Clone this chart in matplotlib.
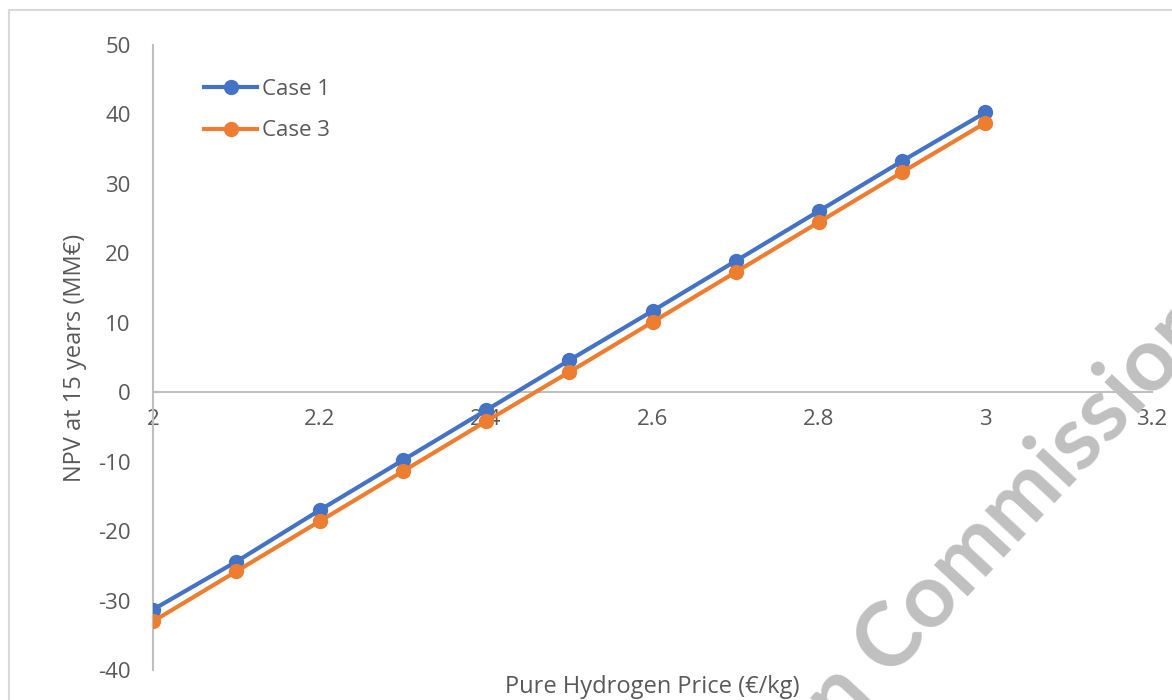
import matplotlib
matplotlib.use('Agg')
from matplotlib import pyplot as plt
from matplotlib.patches import Rectangle

# hydrogen price (EUR/kg) and NPV after 15 years (MM EUR)
prices = [2.0, 2.1, 2.2, 2.3, 2.4, 2.5, 2.6, 2.7, 2.8, 2.9, 3.0]
npv_case1 = [-31.3, -24.4, -17.0, -9.8, -2.6, 4.6, 11.7, 18.9, 26.1, 33.3, 40.3]
npv_case3 = [-33.0, -25.8, -18.6, -11.4, -4.2, 2.9, 10.1, 17.3, 24.5, 31.7, 38.8]

x_ticks = [2, 2.2, 2.4, 2.6, 2.8, 3, 3.2]
x_tick_labels = ['2', '2.2', '2.4', '2.6', '2.8', '3', '3.2']
y_ticks = [-40, -30, -20, -10, 0, 10, 20, 30, 40, 50]

plt.rcParams['font.family'] = ['Open Sans', 'DejaVu Sans']
plt.rcParams['axes.unicode_minus'] = False
text_color = '#595959'
axis_color = '#bfbfbf'

fig = plt.figure(figsize=(11.72, 7.0), dpi=100)
W, H = 1172, 700
ax = fig.add_axes([153 / W, 1 - 670 / H, (1152 - 153) / W, (670 - 45) / H])

ax.plot(prices, npv_case1, color='#4472C4', lw=3, marker='o', ms=10, label='Case 1', zorder=3)
ax.plot(prices, npv_case3, color='#ED7D31', lw=3, marker='o', ms=10, label='Case 3', zorder=3)

ax.set_xlim(2, 3.2)
ax.set_ylim(-40, 50)
ax.set_xticks(x_ticks)
ax.set_xticklabels(x_tick_labels)
ax.set_yticks(y_ticks)

for side in ['top', 'right']:
    ax.spines[side].set_visible(False)
ax.spines['bottom'].set_position(('data', 0))
ax.spines['bottom'].set_color(axis_color)
ax.spines['left'].set_color(axis_color)
ax.spines['bottom'].set_linewidth(1.5)
ax.spines['left'].set_linewidth(1.5)

ax.tick_params(axis='x', length=0, pad=12, labelsize=16, labelcolor=text_color)
ax.tick_params(axis='y', length=0, pad=16, labelsize=16, labelcolor=text_color)

ax.set_xlabel('Pure Hydrogen Price (€/kg)', fontsize=17, color=text_color)
ax.xaxis.set_label_coords(0.5, -0.008)
ax.set_ylabel('NPV at 15 years (MM€)', fontsize=17, color=text_color)
ax.yaxis.set_label_coords(-0.078, 0.5)
ax.yaxis.label.set_verticalalignment('center')

leg = ax.legend(loc='upper left', bbox_to_anchor=(204 / W, 1 - 79 / H),
                bbox_transform=fig.transFigure, frameon=False, fontsize=16,
                handlelength=2.4, handletextpad=0.2, labelspacing=0.92,
                borderpad=0, borderaxespad=0)
for t in leg.get_texts():
    t.set_color(text_color)

# outer frame
fig.patches.append(Rectangle((9 / W, -0.1), 1.1, 1 - 10 / H + 0.1, transform=fig.transFigure,
                             fill=False, edgecolor='#d9d9d9', lw=1.5))

# watermark
fig.text(617 / W, 1 - 973 / H, 'European Commission', rotation=47, rotation_mode='anchor',
         ha='left', va='baseline', fontsize=64, fontweight='bold',
         family=['Lato', 'DejaVu Sans'], color='#c0c0c0', zorder=10)

fig.savefig('out.png', dpi=100)
